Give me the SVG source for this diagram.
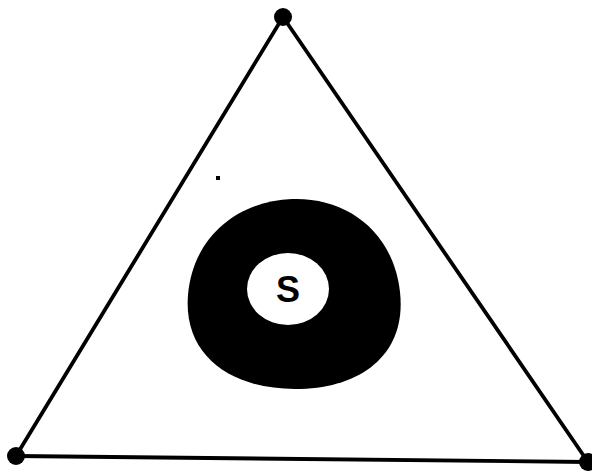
<svg xmlns="http://www.w3.org/2000/svg" width="592" height="472" viewBox="0 0 592 472">
<style>
.edge{stroke:#000;stroke-width:3.8;fill:none;stroke-linecap:round}
.vtx{fill:#000}
</style>
<rect width="592" height="472" fill="#fff"/>
<g id="connectors">
<line class="edge" x1="283" y1="17" x2="16" y2="456"/>
<line class="edge" x1="16" y1="456" x2="588" y2="462"/>
<line class="edge" x1="588" y1="462" x2="283" y2="17"/>
</g>
<g id="v-top"><circle class="vtx" cx="283" cy="17" r="9"/></g>
<g id="v-left"><circle class="vtx" cx="16" cy="456" r="9"/></g>
<g id="v-right"><circle class="vtx" cx="588" cy="462" r="9"/></g>
<g id="dot"><rect x="216" y="176" width="4" height="4" fill="#000"/></g>
<g id="region">
<path d="M292 199 C345 197 393 230 400 292 C407 355 360 389 295 389 C230 389 183 355 188 295 C193 235 240 201 292 199 Z" fill="#000"/>
<ellipse cx="288" cy="289" rx="41" ry="36" fill="#fff"/>
<text x="288" y="302" text-anchor="middle" font-family="Liberation Sans, Arial, sans-serif" font-size="36" font-weight="bold">S</text>
</g>
</svg>
